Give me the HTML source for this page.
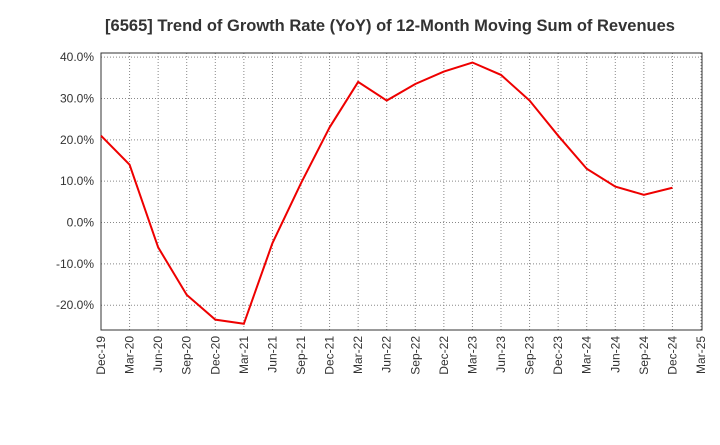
<!DOCTYPE html>
<html><head><meta charset="utf-8"><style>
body{margin:0;background:#fff;font-family:"Liberation Sans",sans-serif}
svg text{font-family:"Liberation Sans",sans-serif;fill:#333}
</style></head><body>
<svg width="720" height="440" xmlns="http://www.w3.org/2000/svg">
<text x="390" y="31" text-anchor="middle" font-size="16.5" font-weight="bold">[6565]  Trend of Growth Rate (YoY) of 12-Month Moving Sum of Revenues</text>
<g id="grid"></g>
<g id="yaxis"></g>
<g id="xaxis"></g>
<rect x="101" y="53" width="601" height="277" fill="none" stroke="#333"/>
<polyline id="line" fill="none" stroke="#e00" stroke-width="2"/>
</svg>
<script>
const categories=["Dec-19","Mar-20","Jun-20","Sep-20","Dec-20","Mar-21","Jun-21","Sep-21","Dec-21","Mar-22","Jun-22","Sep-22","Dec-22","Mar-23","Jun-23","Sep-23","Dec-23","Mar-24","Jun-24","Sep-24","Dec-24","Mar-25"];
const values=[21,14,-6,-17.5,-23.5,-24.5,-5,9.5,23,34,29.5,33.5,36.5,38.7,35.7,29.5,21,13,8.7,6.7,8.4];
const yTicks=[40,30,20,10,0,-10,-20];
const X0=101,X1=701,Y0=330,Y1=53,VMIN=-26,VMAX=41;
const xs=i=>X0+(X1-X0)*i/(categories.length-1);
const ys=v=>Y0-(v-VMIN)/(VMAX-VMIN)*(Y0-Y1);
const NS="http://www.w3.org/2000/svg";
const grid=document.getElementById('grid'),ya=document.getElementById('yaxis'),xa=document.getElementById('xaxis');
function mk(tag,at,parent){const e=document.createElementNS(NS,tag);for(const k in at)e.setAttribute(k,at[k]);parent.appendChild(e);return e;}
yTicks.forEach(t=>{
  const y=ys(t);
  const g=mk('line',{x1:X0,x2:702,y1:y,y2:y,stroke:'#888','stroke-dasharray':'1,2'},grid);
  
  
  const tx=mk('text',{x:94,y:y+4,'text-anchor':'end','font-size':12},ya);
  tx.textContent=t.toFixed(1)+'%';
  
  
});
categories.forEach((c,i)=>{
  const x=xs(i);
  const g=mk('line',{x1:x,x2:x,y1:53,y2:330,stroke:'#888','stroke-dasharray':'1,2'},grid);
  
  
  const tx=mk('text',{x:0,y:0,'text-anchor':'end','font-size':12,transform:`translate(${x+4},336) rotate(-90)`},xa);
  tx.textContent=c;
  
  
});
document.getElementById('line').setAttribute('points',values.map((v,i)=>xs(i)+','+ys(v)).join(' '));
</script>
</body></html>
